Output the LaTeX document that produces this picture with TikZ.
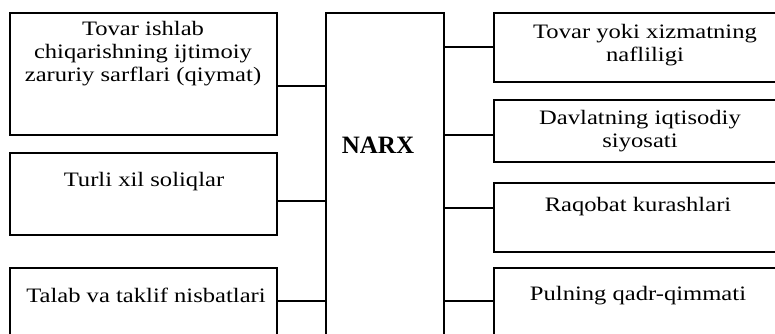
\documentclass[tikz,border=0pt]{standalone}
\usepackage{fontspec}
\setmainfont{Liberation Serif}[FakeStretch=1.2]
\newfontfamily\narxfont{Liberation Serif}
\begin{document}
\begin{tikzpicture}[x=1pt,y=-1pt,
  box/.style={draw=black,line width=1.1pt,rectangle,inner sep=0pt},
  txt/.style={align=center,inner sep=0pt,font=\fontsize{20.5}{23}\selectfont},
  conn/.style={draw=black,line width=1.1pt}]
\useasboundingbox (0,0) rectangle (775,333);
\clip (0,0) rectangle (775,333);
% boxes
\node[box,minimum width=267pt,minimum height=122pt] (b1) at (143.5,74) {};
\node[box,minimum width=267pt,minimum height=82pt] (b2) at (143.5,194) {};
\node[box,minimum width=267pt,minimum height=120pt] (b3) at (143.5,328) {};
\node[box,minimum width=118pt,minimum height=380pt] (narx) at (385,203) {};
\node[box,minimum width=320pt,minimum height=69pt] (r1) at (654,47.5) {};
\node[box,minimum width=320pt,minimum height=62pt] (r2) at (654,131) {};
\node[box,minimum width=320pt,minimum height=69pt] (r3) at (654,217.5) {};
\node[box,minimum width=320pt,minimum height=120pt] (r4) at (654,328) {};
% texts
\node[txt] (t1) at (143,54) {Tovar ishlab\\chiqarishning ijtimoiy\\zaruriy sarflari (qiymat)};
\node[txt] (t2) at (144,182) {Turli xil soliqlar};
\node[txt] (t3) at (146,295) {Talab va taklif nisbatlari};
\node[font=\narxfont\bfseries\fontsize{25}{30}\selectfont,inner sep=0pt] (tn) at (378,145) {NARX};
\node[txt] (u1) at (645,45) {Tovar yoki xizmatning\\nafliligi};
\node[txt] (u2) at (640,131) {Davlatning iqtisodiy\\siyosati};
\node[txt] (u3) at (638,207) {Raqobat kurashlari};
\node[txt] (u4) at (638,296) {Pulning qadr-qimmati};
% connectors
\draw[conn] (b1.east |- 0,86) -- (narx.west |- 0,86);
\draw[conn] (b2.east |- 0,201) -- (narx.west |- 0,201);
\draw[conn] (b3.east |- 0,301) -- (narx.west |- 0,301);
\draw[conn] (narx.east |- 0,47) -- (r1.west |- 0,47);
\draw[conn] (narx.east |- 0,135) -- (r2.west |- 0,135);
\draw[conn] (narx.east |- 0,208) -- (r3.west |- 0,208);
\draw[conn] (narx.east |- 0,301) -- (r4.west |- 0,301);
\end{tikzpicture}
\end{document}
